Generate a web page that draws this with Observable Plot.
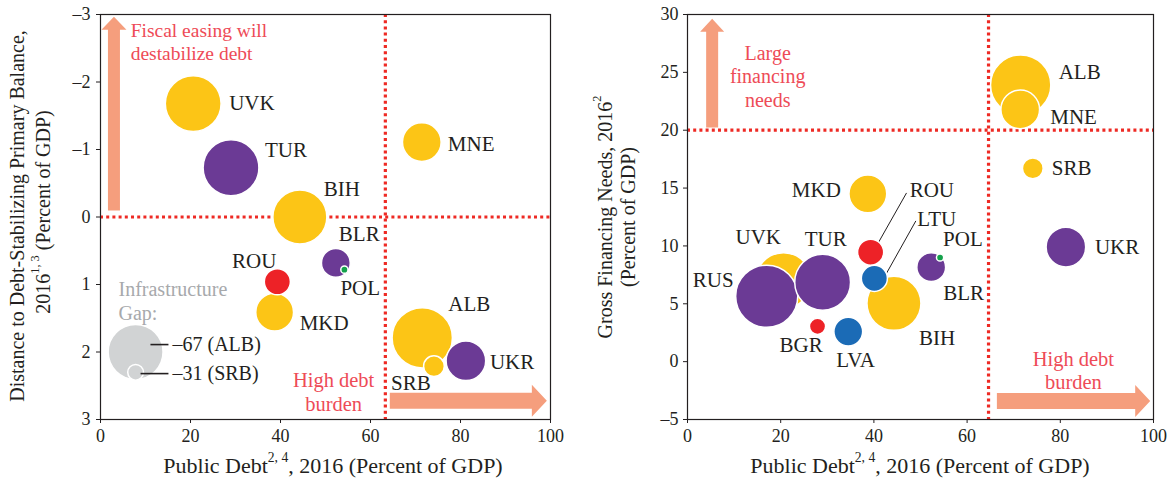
<!DOCTYPE html>
<html><head><meta charset="utf-8">
<script src="https://cdn.jsdelivr.net/npm/d3@7"></script>
<script src="https://cdn.jsdelivr.net/npm/@observablehq/plot@0.6"></script>
<style>
body{margin:0;background:#fff;}
#wrap{display:flex;width:1174px;height:481px;overflow:hidden;}
svg, svg text, svg tspan{font-family:"Liberation Serif","DejaVu Serif",serif !important;}
</style></head><body><div id="wrap"></div>
<script>
// ---- data ----
const countries = ["UVK","RUS","TUR","BIH","MKD","ROU","LTU","LVA","BGR","BLR","POL","ALB","MNE","SRB","UKR"];
const groups    = ["WB","CIS","CIS","WB","WB","SEE","BAL","BAL","SEE","CIS","CE","WB","WB","WB","CIS"];
const publicDebt = [20.6, 17.0, 29.0, 44.3, 38.7, 39.3, 40.1, 34.5, 27.9, 52.3, 54.2, 71.5, 71.4, 74.1, 81.2];
const distanceToStab = [-1.68, null, -0.73, 0.0, 1.41, 0.96, null, null, null, 0.68, 0.78, 1.79, -1.11, 2.21, 2.13];
const grossFinancing = [7.0, 5.65, 6.86, 5.04, 14.5, 9.46, 7.2, 2.6, 3.05, 8.16, 9.0, 23.9, 21.8, 16.7, 9.9];
const infraGap = [62, 69, 62, 60, 42, 29, 29, 32, 18, 32, 8, 67, 43, 23, 44];

const groupNames = ["WB","CIS","SEE","BAL","CE"];
const groupColors = ["#FCC516","#6B3A95","#ED2227","#1B6BB6","#14A14B"];

const xTicks = [0,20,40,60,80,100];
const leftYTicks = [-3,-2,-1,0,1,2,3];
const rightYTicks = [-5,0,5,10,15,20,25,30];

const leftThresholdDebt = [63.3];
const leftThresholdDist = [0];
const rightThresholdDebt = [64.6];
const rightThresholdGFN = [20];

const legendGap = [61, 17.5];
const legendLabels = ["\u201367 (ALB)", "\u201331 (SRB)"];

// ---- helpers ----
const rows = countries.map((c,i)=>({c, g:groups[i], debt:publicDebt[i], dist:distanceToStab[i], gfn:grossFinancing[i], gap:infraGap[i]}));
const TXT = "#231F20", ANN = "#EE4B57", ARROW = "#F59E7D";
const FONT = "'Liberation Serif','DejaVu Serif',serif";
const fmt = d => (d<0 ? "\u2013" : "") + Math.abs(d);

function arrowMark(x1,y1,x2,y2,shaft,headW,headL,color){
  return (index, scales) => {
    const X = scales.x, Y = scales.y;
    const ax=X(x1), ay=Y(y1), bx=X(x2), by=Y(y2);
    const dx=bx-ax, dy=by-ay, L=Math.hypot(dx,dy);
    const ux=dx/L, uy=dy/L, nx=-uy, ny=ux;
    const hx=bx-ux*headL, hy=by-uy*headL;
    const pts=[[ax+nx*shaft/2,ay+ny*shaft/2],[hx+nx*shaft/2,hy+ny*shaft/2],[hx+nx*headW/2,hy+ny*headW/2],[bx,by],
      [hx-nx*headW/2,hy-ny*headW/2],[hx-nx*shaft/2,hy-ny*shaft/2],[ax-nx*shaft/2,ay-ny*shaft/2]];
    const p=document.createElementNS("http://www.w3.org/2000/svg","path");
    p.setAttribute("d","M"+pts.map(q=>q[0].toFixed(2)+","+q[1].toFixed(2)).join("L")+"Z");
    p.setAttribute("fill",color);
    return p;
  };
}

function labelMarks(data, yKey, placements){
  return placements.map(([c,dx,dy,anchor])=>{
    const d = data.find(r=>r.c===c);
    return Plot.text([d], {x:"debt", y:yKey, text:"c", dx, dy, textAnchor:anchor||"start", fontSize:21, fill:TXT});
  });
}

function addTitle(svg, x, y, rot, parts, size){
  const t = d3.select(svg).append("text")
    .attr("transform",`translate(${x},${y}) rotate(${rot})`)
    .attr("text-anchor","middle").attr("dominant-baseline","central")
    .attr("font-family","Liberation Serif")
    .attr("font-size",size).attr("fill",TXT);
  let shifted=false;
  parts.forEach(([s,sup])=>{
    const ts=t.append("tspan").text(s);
    if(sup){ ts.attr("font-size",size*0.62).attr("dy",-size*0.38); shifted=true; }
    else if(shifted){ ts.attr("dy",size*0.38); shifted=false; }
  });
}

const colorScale = {domain:groupNames, range:groupColors};
const rScale = {type:"linear", domain:[0,100], range:[0,45]};

// ---- left chart ----
const leftData = rows.filter(r=>r.dist!==null);
const leftLabels = [["UVK",36,0],["TUR",34,-17],["BIH",24,-28],["MNE",26,2],["BLR",3,-29],["POL",-4,19],
  ["ROU",-1,-21,"end"],["MKD",25,11],["ALB",26,-34],["SRB",-43,17],["UKR",24,1]];

const left = Plot.plot({
  width:587, height:481, marginLeft:100, marginRight:37, marginTop:14, marginBottom:62,
  style:{fontFamily:FONT, fontSize:"18px", color:TXT, background:"#fff"},
  x:{domain:[0,100]},
  y:{domain:[-3,3], reverse:true},
  r:rScale, color:colorScale,
  marks:[
    Plot.axisX({ticks:xTicks, tickFormat:fmt, tickSize:4, tickPadding:6, fontSize:18, label:null}),
    Plot.axisY({ticks:leftYTicks, tickFormat:fmt, tickSize:4, tickPadding:6, fontSize:18, label:null}),
    arrowMark(3.1,-0.09,3.1,-2.96,12,25,13,ARROW),
    arrowMark(64.4,2.73,99.3,2.73,16,32,15,ARROW),
    Plot.ruleY(leftThresholdDist,{stroke:"#EE2A24",strokeWidth:3.2,strokeDasharray:"3,3.2"}),
    Plot.ruleX(leftThresholdDebt,{stroke:"#EE2A24",strokeWidth:3.2,strokeDasharray:"3,3.2"}),
    Plot.dot(legendGap,{x:[7.8,7.8], y:[2.0,2.3], r:d=>d, fill:"#D1D3D4", stroke:"#fff", strokeWidth:1.5, sort:null}),
    Plot.link([0,1],{x1:[11.1,8.9], x2:[15.1,15.1], y1:[1.89,2.32], y2:[1.89,2.32], stroke:TXT, strokeWidth:1.6}),
    Plot.text(legendLabels,{x:[16,16], y:[1.89,2.32], text:d=>d, textAnchor:"start", fontSize:20, fill:TXT}),
    Plot.text(["Infrastructure\nGap:"],{x:[4.0], y:[1.24], text:d=>d, textAnchor:"start", fontSize:20, lineHeight:1.2, fill:"#A7A9AC"}),
    Plot.dot(leftData,{x:"debt", y:"dist", r:"gap", fill:"g", stroke:"#fff", strokeWidth:1.5, sort:null}),
    ...labelMarks(leftData,"dist",leftLabels),
    Plot.text(["Fiscal easing will\ndestabilize debt"],{x:[6.7], y:[-2.61], text:d=>d, textAnchor:"start", fontSize:19.5, lineHeight:1.22, fill:ANN}),
    Plot.text(["High debt\nburden"],{x:[51.8], y:[2.58], text:d=>d, textAnchor:"middle", fontSize:20.5, lineHeight:1.18, fill:ANN}),
    Plot.frame({stroke:TXT, strokeWidth:1.2})
  ]
});
addTitle(left, 333, 465, 0, [["Public Debt"],["2, 4",true],[", 2016 (Percent of GDP)"]], 22);
addTitle(left, 17, 216, -90, [["Distance to Debt-Stabilizing Primary Balance,"]], 20);
addTitle(left, 43, 212, -90, [["2016"],["1, 3",true],[" (Percent of GDP)"]], 20);

// ---- right chart ----
const rightData = rows.filter(r=>r.gfn!==null);
const rightLabels = [["ALB",38,-13],["MNE",30,8],["SRB",19,0],["MKD",-27,-4,"end"],["UKR",29,0],["UVK",-48,-43],
  ["RUS",-33,-16,"end"],["TUR",-18,-43],["BIH",25,35],["ROU",39,-62],["LTU",43,-59],["BLR",12,26],["POL",3,-18],
  ["BGR",-38,19],["LVA",-12,29]];

const right = Plot.plot({
  width:587, height:481, marginLeft:100, marginRight:21, marginTop:14, marginBottom:62,
  style:{fontFamily:FONT, fontSize:"18px", color:TXT, background:"#fff"},
  x:{domain:[0,100]},
  y:{domain:[-5,30]},
  r:rScale, color:colorScale,
  marks:[
    Plot.axisX({ticks:xTicks, tickFormat:fmt, tickSize:4, tickPadding:6, fontSize:18, label:null}),
    Plot.axisY({ticks:rightYTicks, tickFormat:fmt, tickSize:4, tickPadding:5, fontSize:18, label:null}),
    arrowMark(5.4,20.2,5.4,29.6,12,24,13,ARROW),
    arrowMark(66.5,-3.45,99.4,-3.45,16,32,15,ARROW),
    Plot.ruleY(rightThresholdGFN,{stroke:"#EE2A24",strokeWidth:3.2,strokeDasharray:"3,3.2"}),
    Plot.ruleX(rightThresholdDebt,{stroke:"#EE2A24",strokeWidth:3.2,strokeDasharray:"3,3.2"}),
    Plot.link([0,1],{x1:[47.0,49.0], y1:[14.58,12.16], x2:[40.8,42.1], y2:[10.17,7.2], stroke:TXT, strokeWidth:1}),
    Plot.dot(rightData,{x:"debt", y:"gfn", r:"gap", fill:"g", stroke:"#fff", strokeWidth:1.5, sort:null}),
    ...labelMarks(rightData,"gfn",rightLabels),
    Plot.text(["Large\nfinancing\nneeds"],{x:[17.2], y:[24.7], text:d=>d, textAnchor:"middle", fontSize:20, lineHeight:1.18, fill:ANN}),
    Plot.text(["High debt\nburden"],{x:[82.8], y:[-0.72], text:d=>d, textAnchor:"middle", fontSize:20.5, lineHeight:1.15, fill:ANN}),
    Plot.frame({stroke:TXT, strokeWidth:1.2})
  ]
});
addTitle(right, 333, 465, 0, [["Public Debt"],["2, 4",true],[", 2016 (Percent of GDP)"]], 22);
addTitle(right, 18, 217, -90, [["Gross Financing Needs, 2016"],["2",true]], 20);
addTitle(right, 41, 217, -90, [["(Percent of GDP)"]], 20);

document.getElementById("wrap").append(left, right);
</script></body></html>
